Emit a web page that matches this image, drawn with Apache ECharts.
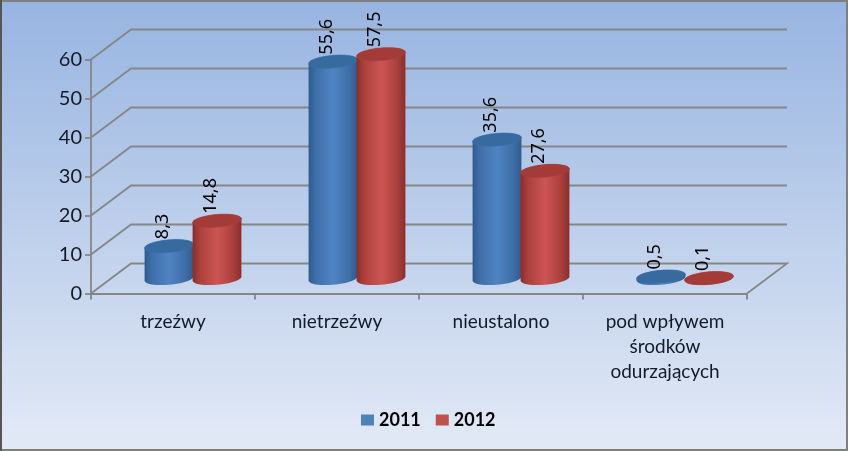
<!DOCTYPE html>
<html><head><meta charset="utf-8">
<style>html,body{margin:0;padding:0;background:#fff}#c{width:848px;height:451px}</style>
<script src="https://cdn.jsdelivr.net/npm/echarts@6/dist/echarts.min.js"></script>
</head><body><div id="c"></div>
<script>
const categories = ['trzeźwy','nietrzeźwy','nieustalono','pod wpływem\nśrodków\nodurzających'];
const values2011 = [8.3,55.6,35.6,0.5];
const values2012 = [14.8,57.5,27.6,0.1];
const wallTicks = [0,10,20,30,40,50,60];
const FONT = 'Lato, "Noto Sans", sans-serif';
const DEPTH_X = 40, DEPTH_Y = 30;
const AXIS = '#868686';
const chart = echarts.init(document.getElementById('c'), null, {renderer:'canvas'});

function ell(cx, cy, a, b, th, t){
  const c=Math.cos(t), s=Math.sin(t);
  return [cx + a*c*Math.cos(th) - b*s*Math.sin(th), cy + a*c*Math.sin(th) + b*s*Math.cos(th)];
}
function ellipsePts(cx,cy,a,b,th,t0,t1,n){
  const p=[]; for(let i=0;i<=n;i++) p.push(ell(cx,cy,a,b,th,t0+(t1-t0)*i/n)); return p;
}
function cylinder(shift, side, top, edge){
  return function(params, api){
    const i = api.value(0), v = api.value(1);
    const base = api.coord([i,0]), head = api.coord([i,v]);
    const cx = base[0] + 19.5 + shift;
    const yb = base[1] - 15, yt = head[1] - 15;
    const a = 24.5, b = 6.3, th = -5*Math.PI/180;
    const t0 = Math.atan(-(b/a)*Math.tan(th));
    const body = ellipsePts(cx,yb,a,b,th,t0,t0+Math.PI,24)
      .concat(ellipsePts(cx,yt,a,b,th,t0+Math.PI,t0+2*Math.PI,24));
    const rows = [
      {type:'polygon', shape:{points:body}, style:{fill:new echarts.graphic.LinearGradient(0,0,1,0,[
        {offset:0,color:side[0]},{offset:.15,color:side[1]},{offset:.5,color:side[2]},{offset:.82,color:side[1]},{offset:1,color:side[0]}
      ])}},
      {type:'polygon', shape:{points:ellipsePts(cx,yt,a,b,th,0,2*Math.PI,48)}, style:{fill:top, stroke:edge, lineWidth:.6}},
      {type:'text', x:cx-6, y:yt-7, rotation:Math.PI/2, style:{
        text:String(v).replace('.',','), font:'18px "Noto Sans", sans-serif', fill:'#000', textAlign:'left', textVerticalAlign:'middle'
      }, z2:100}
    ];
    return {type:'group', children:rows};
  };
}
function wall(params, api){
  const p = api.coord([0, api.value(0)]);
  const r = params.coordSys;
  const x0 = r.x, x1 = r.x + r.width, y = p[1];
  const st = {stroke:AXIS, lineWidth:1.8, fill:null};
  const pts = [[x0,y],[x0+DEPTH_X,y-DEPTH_Y],[x1+DEPTH_X,y-DEPTH_Y]];
  if (api.value(0) === 0) pts.push([x1,y]);
  return {type:'polyline', shape:{points:pts}, style:st};
}
chart.setOption({
  animation:false,
  backgroundColor:new echarts.graphic.LinearGradient(0,0,0,1,[
    {offset:0,color:'#97b4e1'},{offset:.5,color:'#bdcfeb'},{offset:1,color:'#e3eaf6'}
  ]),
  legend:{
    left:356, top:406, itemWidth:13, itemHeight:11, itemGap:15, icon:'rect',
    data:['2011','2012'],
    textStyle:{fontFamily:FONT, fontSize:18, fontWeight:'bold', color:'#000', width:38}
  },
  grid:{left:91, right:101, top:59.5, bottom:157.5, containLabel:false},
  xAxis:{type:'category', data:categories, boundaryGap:true,
    axisLine:{show:true,lineStyle:{color:AXIS,width:1.8}},
    axisTick:{show:true,alignWithLabel:false,length:6,inside:false,lineStyle:{color:AXIS,width:1.8}},
    axisLabel:{interval:0,fontFamily:FONT,fontSize:19,color:'#141b26',lineHeight:25,margin:16}},
  yAxis:{type:'value',min:0,max:60,interval:10,
    axisLine:{show:true,lineStyle:{color:AXIS,width:1.8}},
    axisTick:{show:true,length:6,lineStyle:{color:AXIS,width:1.8}},
    splitLine:{show:false},
    axisLabel:{fontFamily:FONT,fontSize:20,color:'#141b26',margin:9}},
  series:[
    {type:'custom',name:'wall',silent:true,z:1,data:wallTicks.map(v=>[v]),encode:{y:0},renderItem:wall,clip:false},
    {type:'custom',name:'2011',z:3,itemStyle:{color:'#4f81bd'},data:values2011.map((v,i)=>[i,v]),encode:{x:0,y:1},clip:false,
      renderItem:cylinder(-23.5,['#2f5a8e','#3f6fa9','#4f84c3'],'#376a9f','#3a6ea5')},
    {type:'custom',name:'2012',z:4,itemStyle:{color:'#c0504d'},data:values2012.map((v,i)=>[i,v]),encode:{x:0,y:1},clip:false,
      renderItem:cylinder(24.5,['#8a2e2c','#ab403d','#cd5553'],'#a33b38','#a83f3c')}
  ],
  graphic:[
    {type:'rect',silent:true,z:1000,shape:{x:1,y:1,width:846,height:449},style:{fill:null,stroke:'#7f7f7f',lineWidth:2}},
    {type:'rect',silent:true,z:1000,shape:{x:0,y:0,width:2,height:451},style:{fill:'#555'}}
  ]
});
</script></body></html>
